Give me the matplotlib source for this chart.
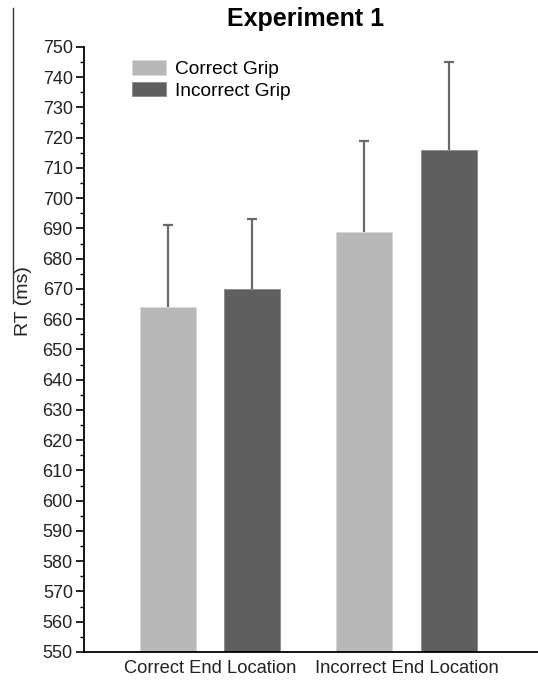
import matplotlib
matplotlib.use("Agg")
import matplotlib.pyplot as plt
from matplotlib.lines import Line2D
from matplotlib.ticker import MultipleLocator
import numpy as np

plt.rcParams['font.family'] = ['Liberation Sans', 'DejaVu Sans']

categories = ['Correct End Location', 'Incorrect End Location']
series = ['Correct Grip', 'Incorrect Grip']
means_correct_grip = [664, 689]
means_incorrect_grip = [670, 716]
err_correct_grip = [27, 30]
err_incorrect_grip = [23, 29]

fig = plt.figure(figsize=(5.38, 6.81), dpi=100)
ax = fig.add_axes([0.156, 0.0426, 0.844, 0.8884])

x = np.arange(len(categories))
w = 0.285
off = 0.214
light = '#b8b8b8'
dark = '#5f5f5f'
errc = '#6a6a6a'

for pos, means, errs, col, edge, lab in [
        (x - off, means_correct_grip, err_correct_grip, light, '#d8d8d8', series[0]),
        (x + off, means_incorrect_grip, err_incorrect_grip, dark, '#8a8a8a', series[1])]:
    means = np.array(means)
    errs = np.array(errs)
    ax.bar(pos, means - 550, w, bottom=550, color=col, edgecolor=edge,
           linewidth=0.6, label=lab, zorder=2)
    # upper-only error bars, no cap at the bar top
    ax.vlines(pos, means, means + errs, color=errc, linewidth=1.6, zorder=1)
    ax.plot(pos, means + errs, linestyle='none', marker='_', markersize=7,
            mew=1.6, color=errc, zorder=1)

ax.set_ylim(550, 750)
ax.set_xlim(-0.641, 1.669)
ax.yaxis.set_major_locator(MultipleLocator(10))
ax.yaxis.set_minor_locator(MultipleLocator(5))
ax.tick_params(axis='y', which='major', direction='out', length=6, width=1.2,
               labelsize=13, labelcolor='#222222', pad=2)
ax.tick_params(axis='y', which='minor', direction='out', length=3, width=1)
ax.set_xticks(x)
ax.set_xticklabels(categories)
ax.tick_params(axis='x', length=0, labelsize=13.2, labelcolor='#222222', pad=6)

for s in ['top', 'right']:
    ax.spines[s].set_visible(False)
for s in ['left', 'bottom']:
    ax.spines[s].set_linewidth(1.3)

ax.set_ylabel('RT (ms)', fontsize=14, color='#222222')
ax.yaxis.set_label_coords(-0.115, 0.58)
ax.set_title('Experiment 1', fontsize=18, fontweight='bold', pad=15, x=0.488)

ax.legend(loc='upper left', bbox_to_anchor=(0.073, 1.004), frameon=False,
          fontsize=13.8, handlelength=1.75, handleheight=0.8,
          handletextpad=0.45, labelspacing=0.2, borderpad=0.3)

fig.add_artist(Line2D([13 / 538, 13 / 538], [1 - 8 / 681, 1 - 303 / 681],
                      transform=fig.transFigure, color='#333333', linewidth=1))

fig.savefig('out.png', dpi=100)
